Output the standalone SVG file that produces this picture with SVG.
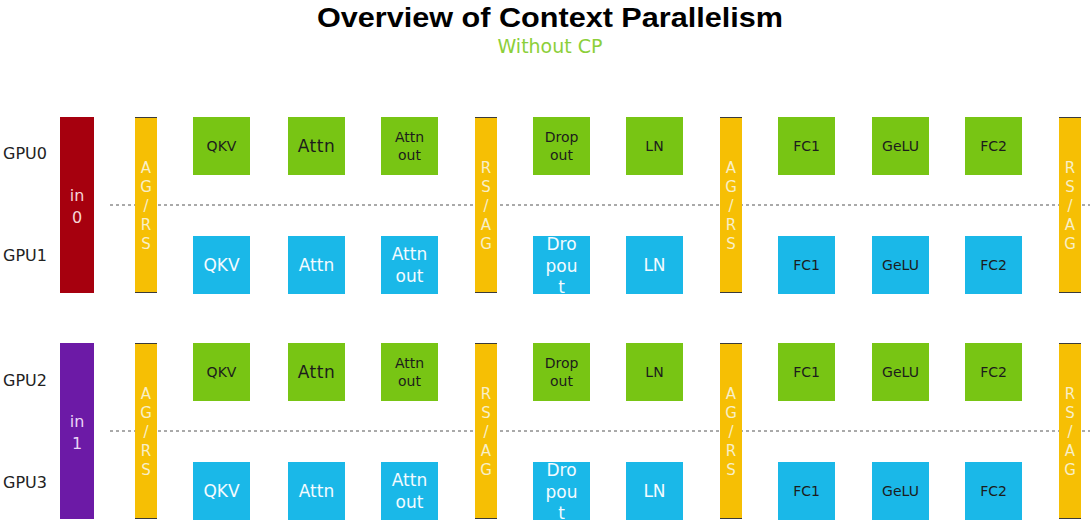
<svg xmlns="http://www.w3.org/2000/svg" width="1090" height="526" viewBox="0 0 1090 526">
<style>
.t{font-family:"DejaVu Sans","Noto Sans",sans-serif;text-anchor:middle}
.g{fill:#78c514}
.b{fill:#1ab8e8}
.y{fill:#f6bf04}
.dk{fill:#1c1c1c;font-size:14px}
.at{font-size:17px;letter-spacing:0.5px}
.wt{fill:#f4fbff;font-size:17px}
.bl{fill:#f8efc8;font-size:15px}
.gpu{font-family:"DejaVu Sans","Noto Sans",sans-serif;font-size:16px;fill:#222}
.edge{stroke:#3a3a3a;stroke-width:1}
.sep{stroke:#555;stroke-width:1;stroke-dasharray:3 3;fill:none}
</style>
<rect width="1090" height="526" fill="#fff"/>
<text x="550" y="27" font-family="Liberation Sans,Arial,sans-serif" font-weight="bold" font-size="27" text-anchor="middle" fill="#000" textLength="466" lengthAdjust="spacingAndGlyphs">Overview of Context Parallelism</text>
<text class="t" x="550" y="53" font-size="19" fill="#8ccf3a">Without CP</text>

<g id="labels">
<text class="gpu" x="3" y="159">GPU0</text>
<text class="gpu" x="3" y="261">GPU1</text>
<text class="gpu" x="3" y="386">GPU2</text>
<text class="gpu" x="3" y="488">GPU3</text>
</g>

<g id="separators">
<line class="sep" x1="110" y1="205" x2="1090" y2="205"/>
<line class="sep" x1="110" y1="431" x2="1090" y2="431"/>
</g>

<g id="in0"><rect x="60" y="117" width="34" height="176" fill="#a6000e"/><text class="t" x="77" y="201" font-size="16" fill="#f6d6d6">in</text><text class="t" x="77" y="223" font-size="16" fill="#f6d6d6">0</text></g>
<g id="in1"><rect x="60" y="343" width="34" height="176" fill="#6c1aa6"/><text class="t" x="77" y="427" font-size="16" fill="#ead6f6">in</text><text class="t" x="77" y="449" font-size="16" fill="#ead6f6">1</text></g>

<g id="agrs0a"><rect class="y" x="135" y="117" width="22" height="176"/><line class="edge" x1="135" y1="117.5" x2="157" y2="117.5"/><line class="edge" x1="135" y1="292.5" x2="157" y2="292.5"/>
<text class="t bl" x="146" y="173">A</text><text class="t bl" x="146" y="192">G</text><text class="t bl" x="146" y="211">/</text><text class="t bl" x="146" y="230">R</text><text class="t bl" x="146" y="249">S</text></g>
<g id="rsag0a"><rect class="y" x="475" y="117" width="22" height="176"/><line class="edge" x1="475" y1="117.5" x2="497" y2="117.5"/><line class="edge" x1="475" y1="292.5" x2="497" y2="292.5"/>
<text class="t bl" x="486" y="173">R</text><text class="t bl" x="486" y="192">S</text><text class="t bl" x="486" y="211">/</text><text class="t bl" x="486" y="230">A</text><text class="t bl" x="486" y="249">G</text></g>
<g id="agrs1a"><rect class="y" x="720" y="117" width="22" height="176"/><line class="edge" x1="720" y1="117.5" x2="742" y2="117.5"/><line class="edge" x1="720" y1="292.5" x2="742" y2="292.5"/>
<text class="t bl" x="731" y="173">A</text><text class="t bl" x="731" y="192">G</text><text class="t bl" x="731" y="211">/</text><text class="t bl" x="731" y="230">R</text><text class="t bl" x="731" y="249">S</text></g>
<g id="rsag1a"><rect class="y" x="1059" y="117" width="22" height="176"/><line class="edge" x1="1059" y1="117.5" x2="1081" y2="117.5"/><line class="edge" x1="1059" y1="292.5" x2="1081" y2="292.5"/>
<text class="t bl" x="1070" y="173">R</text><text class="t bl" x="1070" y="192">S</text><text class="t bl" x="1070" y="211">/</text><text class="t bl" x="1070" y="230">A</text><text class="t bl" x="1070" y="249">G</text></g>

<g id="agrs0b"><rect class="y" x="135" y="343" width="22" height="176"/><line class="edge" x1="135" y1="343.5" x2="157" y2="343.5"/><line class="edge" x1="135" y1="518.5" x2="157" y2="518.5"/>
<text class="t bl" x="146" y="399">A</text><text class="t bl" x="146" y="418">G</text><text class="t bl" x="146" y="437">/</text><text class="t bl" x="146" y="456">R</text><text class="t bl" x="146" y="475">S</text></g>
<g id="rsag0b"><rect class="y" x="475" y="343" width="22" height="176"/><line class="edge" x1="475" y1="343.5" x2="497" y2="343.5"/><line class="edge" x1="475" y1="518.5" x2="497" y2="518.5"/>
<text class="t bl" x="486" y="399">R</text><text class="t bl" x="486" y="418">S</text><text class="t bl" x="486" y="437">/</text><text class="t bl" x="486" y="456">A</text><text class="t bl" x="486" y="475">G</text></g>
<g id="agrs1b"><rect class="y" x="720" y="343" width="22" height="176"/><line class="edge" x1="720" y1="343.5" x2="742" y2="343.5"/><line class="edge" x1="720" y1="518.5" x2="742" y2="518.5"/>
<text class="t bl" x="731" y="399">A</text><text class="t bl" x="731" y="418">G</text><text class="t bl" x="731" y="437">/</text><text class="t bl" x="731" y="456">R</text><text class="t bl" x="731" y="475">S</text></g>
<g id="rsag1b"><rect class="y" x="1059" y="343" width="22" height="176"/><line class="edge" x1="1059" y1="343.5" x2="1081" y2="343.5"/><line class="edge" x1="1059" y1="518.5" x2="1081" y2="518.5"/>
<text class="t bl" x="1070" y="399">R</text><text class="t bl" x="1070" y="418">S</text><text class="t bl" x="1070" y="437">/</text><text class="t bl" x="1070" y="456">A</text><text class="t bl" x="1070" y="475">G</text></g>

<g id="qkv0"><rect class="g" x="193" y="117" width="57" height="58"/><text class="t dk" x="221.5" y="151">QKV</text></g>
<g id="attn0"><rect class="g" x="288" y="117" width="57" height="58"/><text class="t dk at" x="316.5" y="152">Attn</text></g>
<g id="attnout0"><rect class="g" x="381" y="117" width="57" height="58"/><text class="t dk" x="409.5" y="142">Attn</text><text class="t dk" x="409.5" y="160">out</text></g>
<g id="drop0"><rect class="g" x="533" y="117" width="57" height="58"/><text class="t dk" x="561.5" y="142">Drop</text><text class="t dk" x="561.5" y="160">out</text></g>
<g id="ln0"><rect class="g" x="626" y="117" width="57" height="58"/><text class="t dk" x="654.5" y="151">LN</text></g>
<g id="fc1_0"><rect class="g" x="778" y="117" width="57" height="58"/><text class="t dk" x="806.5" y="151">FC1</text></g>
<g id="gelu0"><rect class="g" x="872" y="117" width="57" height="58"/><text class="t dk" x="900.5" y="151">GeLU</text></g>
<g id="fc2_0"><rect class="g" x="965" y="117" width="57" height="58"/><text class="t dk" x="993.5" y="151">FC2</text></g>

<g id="qkv1"><rect class="b" x="193" y="236" width="57" height="58"/><text class="t wt" x="221.5" y="271">QKV</text></g>
<g id="attn1"><rect class="b" x="288" y="236" width="57" height="58"/><text class="t wt" x="316.5" y="271">Attn</text></g>
<g id="attnout1"><rect class="b" x="381" y="236" width="57" height="58"/><text class="t wt" x="409.5" y="260">Attn</text><text class="t wt" x="409.5" y="282">out</text></g>
<g id="drop1"><rect class="b" x="533" y="236" width="57" height="58"/><text class="t wt" x="561.5" y="250" font-size="16">Dro</text><text class="t wt" x="561.5" y="272" font-size="16">pou</text><text class="t wt" x="561.5" y="293" font-size="16">t</text></g>
<g id="ln1"><rect class="b" x="626" y="236" width="57" height="58"/><text class="t wt" x="654.5" y="271">LN</text></g>
<g id="fc1_1"><rect class="b" x="778" y="236" width="57" height="58"/><text class="t dk" x="806.5" y="270">FC1</text></g>
<g id="gelu1"><rect class="b" x="872" y="236" width="57" height="58"/><text class="t dk" x="900.5" y="270">GeLU</text></g>
<g id="fc2_1"><rect class="b" x="965" y="236" width="57" height="58"/><text class="t dk" x="993.5" y="270">FC2</text></g>

<g id="qkv2"><rect class="g" x="193" y="343" width="57" height="58"/><text class="t dk" x="221.5" y="377">QKV</text></g>
<g id="attn2"><rect class="g" x="288" y="343" width="57" height="58"/><text class="t dk at" x="316.5" y="378">Attn</text></g>
<g id="attnout2"><rect class="g" x="381" y="343" width="57" height="58"/><text class="t dk" x="409.5" y="368">Attn</text><text class="t dk" x="409.5" y="386">out</text></g>
<g id="drop2"><rect class="g" x="533" y="343" width="57" height="58"/><text class="t dk" x="561.5" y="368">Drop</text><text class="t dk" x="561.5" y="386">out</text></g>
<g id="ln2"><rect class="g" x="626" y="343" width="57" height="58"/><text class="t dk" x="654.5" y="377">LN</text></g>
<g id="fc1_2"><rect class="g" x="778" y="343" width="57" height="58"/><text class="t dk" x="806.5" y="377">FC1</text></g>
<g id="gelu2"><rect class="g" x="872" y="343" width="57" height="58"/><text class="t dk" x="900.5" y="377">GeLU</text></g>
<g id="fc2_2"><rect class="g" x="965" y="343" width="57" height="58"/><text class="t dk" x="993.5" y="377">FC2</text></g>

<g id="qkv3"><rect class="b" x="193" y="462" width="57" height="58"/><text class="t wt" x="221.5" y="497">QKV</text></g>
<g id="attn3"><rect class="b" x="288" y="462" width="57" height="58"/><text class="t wt" x="316.5" y="497">Attn</text></g>
<g id="attnout3"><rect class="b" x="381" y="462" width="57" height="58"/><text class="t wt" x="409.5" y="486">Attn</text><text class="t wt" x="409.5" y="508">out</text></g>
<g id="drop3"><rect class="b" x="533" y="462" width="57" height="58"/><text class="t wt" x="561.5" y="476" font-size="16">Dro</text><text class="t wt" x="561.5" y="498" font-size="16">pou</text><text class="t wt" x="561.5" y="519" font-size="16">t</text></g>
<g id="ln3"><rect class="b" x="626" y="462" width="57" height="58"/><text class="t wt" x="654.5" y="497">LN</text></g>
<g id="fc1_3"><rect class="b" x="778" y="462" width="57" height="58"/><text class="t dk" x="806.5" y="496">FC1</text></g>
<g id="gelu3"><rect class="b" x="872" y="462" width="57" height="58"/><text class="t dk" x="900.5" y="496">GeLU</text></g>
<g id="fc2_3"><rect class="b" x="965" y="462" width="57" height="58"/><text class="t dk" x="993.5" y="496">FC2</text></g>
</svg>
